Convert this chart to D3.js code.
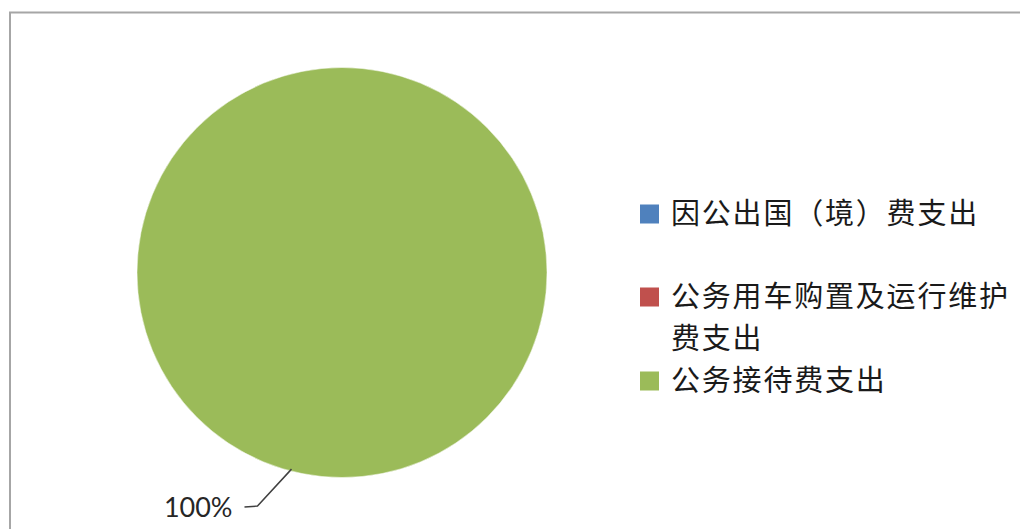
<!DOCTYPE html>
<html><head><meta charset="utf-8">
<script src="https://cdn.jsdelivr.net/npm/d3@7"></script>
<style>html,body{margin:0;padding:0;background:#fff;overflow:hidden}</style>
</head><body>
<svg id="c" width="1020" height="529"></svg>
<script>
const categories = ["因公出国（境）费支出", "公务用车购置及运行维护费支出", "公务接待费支出"];
const values = [0, 0, 100];
const colors = ["#4F81BD", "#C0504D", "#9BBB59"];
const legendLines = [["因公出国（境）费支出"], ["公务用车购置及运行维护", "费支出"], ["公务接待费支出"]];

const svg = d3.select("#c");
// chart frame
svg.append("rect").attr("x", 10).attr("y", 12.5).attr("width", 1030).attr("height", 540)
  .attr("fill", "#fff").attr("stroke", "#a6a6a6").attr("stroke-width", 2);

const cx = 342, cy = 272.5, r = 205;
const g = svg.append("g").attr("transform", `translate(${cx},${cy})`);
const pie = d3.pie().sort(null).value(d => d)(values);
const arc = d3.arc().innerRadius(0).outerRadius(r);
g.selectAll("path").data(pie.filter(d => d.value > 0)).join("path")
  .attr("d", arc).attr("fill", (d) => colors[d.index]).attr("stroke", "#fff").attr("stroke-width", 0.5);

// data label with leader line
const total = d3.sum(values);
pie.filter(d => d.value > 0).forEach(d => {
  const a = Math.PI * 1.08; // label angle (from 12 o'clock, clockwise)
  const p0 = [Math.sin(a) * (r - 2), -Math.cos(a) * (r - 2)];
  const p1 = [Math.sin(a) * r * 1.03 - 32, -Math.cos(a) * r * 1.03 + 29];
  const p2 = [p1[0] - 13, p1[1] + 1];
  g.append("polyline").attr("points", [p0, p1, p2].map(p => p.join(",")).join(" "))
    .attr("fill", "none").attr("stroke", "#404040").attr("stroke-width", 1.5);
  g.append("text").attr("x", p2[0] - 12).attr("y", p2[1] + 10)
    .attr("text-anchor", "end").attr("font-family", "Lato, 'Open Sans', sans-serif")
    .attr("font-size", 27).attr("fill", "#262626")
    .text(Math.round(d.value / total * 100) + "%");
});

// legend
const lx = 640, rowsY = [214, 297, 381], sq = 19;
const lg = svg.append("g");
categories.forEach((c, i) => {
  lg.append("rect").attr("x", lx).attr("y", rowsY[i] - sq / 2).attr("width", sq).attr("height", sq).attr("fill", colors[i]);
  legendLines[i].forEach((t, j) => {
    lg.append("text").attr("x", lx + 31).attr("y", rowsY[i] + j * 42 + 10)
      .attr("font-family", "'Noto Sans CJK SC', sans-serif").attr("font-size", 29)
      .attr("letter-spacing", 1.8).attr("fill", "#1a1a1a")
      .text(t);
  });
});
</script>
</body></html>
